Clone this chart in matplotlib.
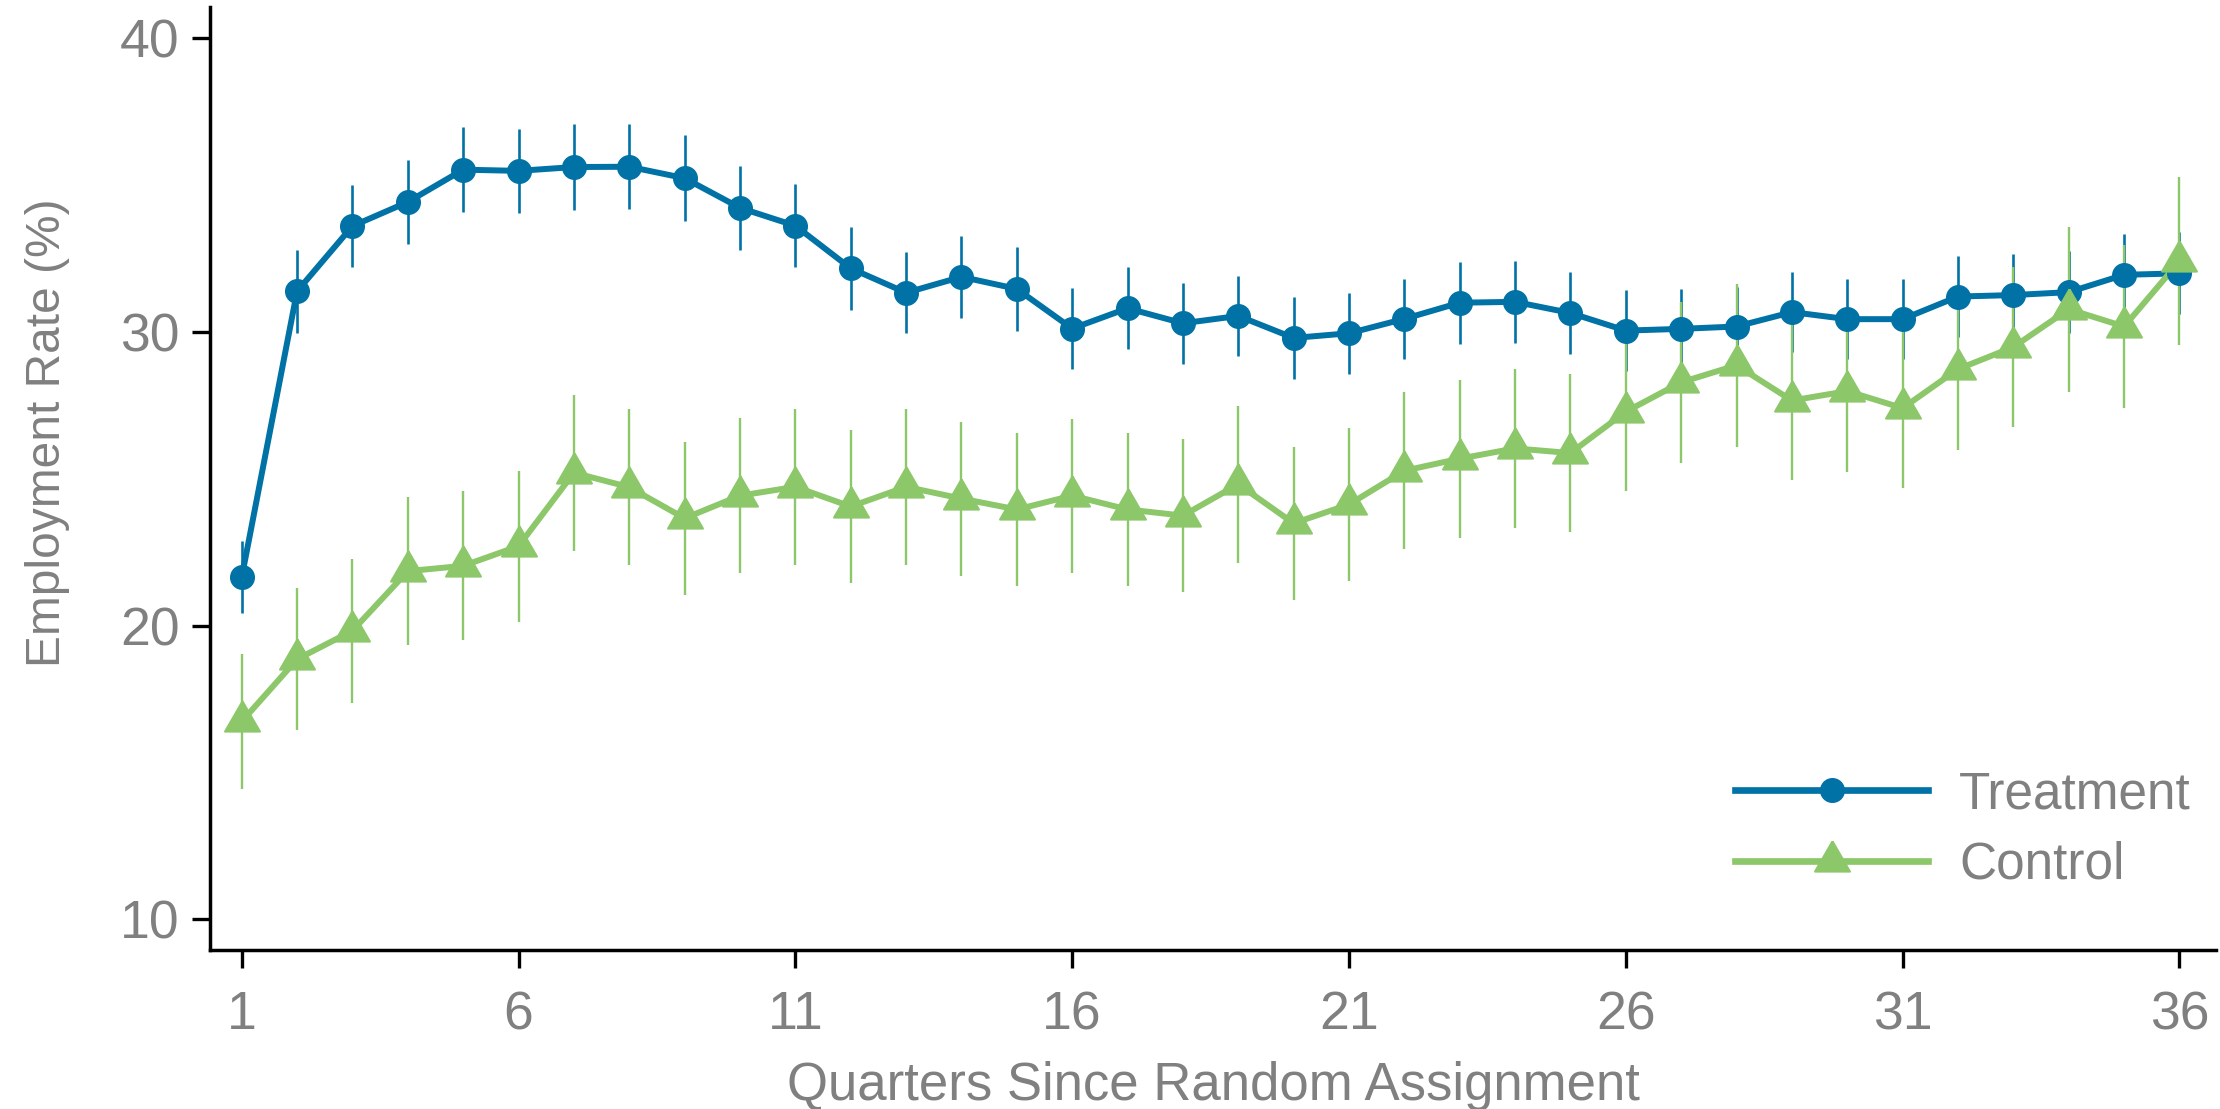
import numpy as np
import matplotlib
matplotlib.use("Agg")
import matplotlib.pyplot as plt
from matplotlib.lines import Line2D

plt.rcParams['font.family'] = ['Liberation Sans', 'DejaVu Sans']

# quarters since random assignment
quarters = list(range(1, 37))

# employment rate (%) and error bar half-widths
treatment = [21.65, 31.39, 33.61, 34.43, 35.53, 35.49, 35.62, 35.63, 35.24, 34.23,
             33.62, 32.17, 31.34, 31.88, 31.47, 30.12, 30.81, 30.30, 30.55, 29.80,
             29.96, 30.45, 31.00, 31.03, 30.65, 30.05, 30.11, 30.19, 30.68, 30.44,
             30.44, 31.21, 31.26, 31.36, 31.95, 32.00]
treatment_err = [1.22, 1.41, 1.41, 1.43, 1.44, 1.44, 1.45, 1.45, 1.46, 1.44,
                 1.42, 1.41, 1.38, 1.40, 1.42, 1.38, 1.40, 1.38, 1.37, 1.39,
                 1.38, 1.37, 1.40, 1.39, 1.38, 1.37, 1.36, 1.36, 1.35, 1.36,
                 1.36, 1.38, 1.39, 1.40, 1.39, 1.40]

control = [16.74, 18.86, 19.83, 21.86, 22.04, 22.71, 25.21, 24.72, 23.66, 24.43,
           24.73, 24.06, 24.73, 24.33, 23.96, 24.43, 23.96, 23.75, 24.82, 23.49,
           24.13, 25.28, 25.69, 26.04, 25.88, 27.29, 28.29, 28.87, 27.67, 27.99,
           27.41, 28.74, 29.49, 30.78, 30.19, 32.41]
control_err = [2.29, 2.42, 2.45, 2.51, 2.54, 2.57, 2.65, 2.65, 2.61, 2.64,
               2.66, 2.61, 2.66, 2.62, 2.60, 2.62, 2.60, 2.61, 2.68, 2.60,
               2.62, 2.67, 2.69, 2.71, 2.69, 2.71, 2.75, 2.77, 2.72, 2.74,
               2.72, 2.75, 2.73, 2.81, 2.78, 2.86]

x_ticks = [1, 6, 11, 16, 21, 26, 31, 36]
y_ticks = [10, 20, 30, 40]

blue = '#0072A5'
green = '#8CC76A'
grey = '#808080'

# triangle centred on its centroid (like R's pch 17)
tri = [(0, 1), (-0.866, -0.5), (0.866, -0.5), (0, 1)]

fig = plt.figure(figsize=(22.2, 11.09), dpi=100)
ax = fig.add_axes([0.0946, 0.1434, 0.9036, 0.8503])

# error bars first, then lines, then points
ax.errorbar(quarters, treatment, yerr=treatment_err, fmt='none', ecolor=blue,
            elinewidth=1.9, capsize=0, zorder=1)
ax.errorbar(quarters, control, yerr=control_err, fmt='none', ecolor=green,
            elinewidth=1.7, capsize=0, zorder=1.1)
ax.plot(quarters, treatment, color=blue, lw=4.3, zorder=2)
ax.plot(quarters, control, color=green, lw=4.3, zorder=2.1)
ax.plot(quarters, treatment, ls='none', marker='o', ms=17, mfc=blue, mec=blue,
        mew=1, zorder=3)
ax.plot(quarters, control, ls='none', marker=tri, ms=29, mfc=green, mec=green,
        mew=1.5, zorder=3.1)

ax.set_xlim(0.4275, 36.66)
ax.set_ylim(8.96, 41.07)
ax.set_xticks(x_ticks)
ax.set_yticks(y_ticks)

for side in ['top', 'right']:
    ax.spines[side].set_visible(False)
for side in ['left', 'bottom']:
    ax.spines[side].set_linewidth(2.5)
    ax.spines[side].set_color('black')
ax.tick_params(axis='both', length=13, width=2.4, color='black',
               labelsize=38.5, labelcolor=grey)
ax.tick_params(axis='x', pad=16)
ax.tick_params(axis='y', pad=9)

ax.set_xlabel('Quarters Since Random Assignment', fontsize=38, color=grey)
ax.set_ylabel('Employment Rate (%)', fontsize=34.5, color=grey)
ax.xaxis.set_label_coords(0.5, -0.1178)
ax.yaxis.set_label_coords(-0.0698, 0.5487)

handles = [
    Line2D([], [], color=blue, lw=4.8, marker='o', ms=17, mfc=blue, mec=blue, mew=1),
    Line2D([], [], color=green, lw=4.8, marker=tri, ms=29, mfc=green, mec=green, mew=1.5),
]
leg = ax.legend(handles, ['Treatment', 'Control'], loc='center left',
                bbox_to_anchor=(0.7815, 0.2514), bbox_transform=fig.transFigure,
                frameon=False, fontsize=37, handlelength=3.76, handletextpad=0.6,
                labelspacing=0.42, borderpad=0, borderaxespad=0, numpoints=1)
for t in leg.get_texts():
    t.set_color(grey)

fig.savefig('out.png', dpi=100)
